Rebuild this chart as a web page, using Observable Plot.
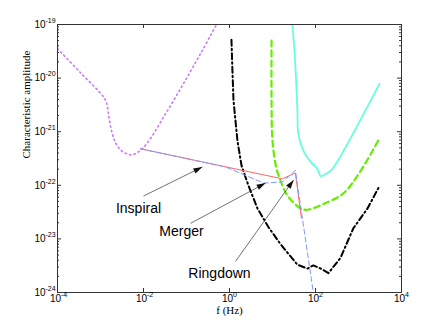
<!DOCTYPE html>
<html><head><meta charset="utf-8">
<script src="https://cdn.jsdelivr.net/npm/d3@7"></script>
<script src="https://cdn.jsdelivr.net/npm/@observablehq/plot@0.6"></script>
<style>body{margin:0;background:#fff}#chart svg{display:block}</style>
</head><body><div id="chart"></div>
<script>
// ---- data (frequency in Hz, characteristic amplitude) ----
const lisaF = [1.0e-4, 3.43e-4, 1.17e-3, 1.38e-3, 1.55e-3, 1.82e-3, 2.24e-3, 3.09e-3, 5.0e-3, 7.6e-3, 1.23e-2, 3.24e-2, 8.5e-2, 0.214, 0.50];
const lisaH = [3.55e-20, 1.26e-20, 4.47e-21, 3.47e-21, 2.0e-21, 1.02e-21, 6.2e-22, 4.4e-22, 3.7e-22, 4.2e-22, 6.2e-22, 2.14e-21, 7.9e-21, 2.9e-20, 1.0e-19];

const blackF = [1.11, 1.17, 1.24, 1.53, 1.91, 2.77, 4.47, 8.1, 15.5, 38, 65, 89, 132, 200, 380, 760, 1620, 3090];
const blackH = [5.2e-20, 1.38e-20, 3.8e-21, 6.8e-22, 2.3e-22, 9.8e-23, 3.7e-23, 1.65e-23, 7.9e-24, 3.3e-24, 2.8e-24, 3.2e-24, 2.8e-24, 2.3e-24, 4.4e-24, 1.58e-23, 3.7e-23, 9.8e-23];

const greenF = [9.5, 9.5, 10, 12.3, 15.5, 20, 26, 45, 65, 155, 447, 1120, 3090];
const greenH = [5.0e-20, 3.8e-21, 6.8e-22, 2.1e-22, 1.2e-22, 7.4e-23, 5.5e-23, 3.7e-23, 3.5e-23, 4.5e-23, 7.1e-23, 1.86e-22, 7.6e-22];

const cyanF = [29.2, 32.4, 34.3, 38, 39.8, 52.5, 76, 112, 132, 170, 224, 324, 3090];
const cyanH = [1.0e-19, 3.2e-20, 1.55e-20, 2.45e-21, 9.1e-22, 4.4e-22, 2.8e-22, 2.0e-22, 1.48e-22, 1.62e-22, 1.86e-22, 2.8e-22, 7.9e-21];

const redF = [8.5e-3, 17, 34, 47];
const redH = [4.8e-22, 1.32e-22, 1.7e-22, 2.45e-23];

const blueF = [8.5e-3, 0.81, 6.2, 17, 34, 89];
const blueH = [4.8e-22, 2.2e-22, 1.1e-22, 1.15e-22, 1.9e-22, 1.0e-24];

const labels = ["Inspiral", "Merger", "Ringdown"];
const labelF = [7.65e-3, 0.0766, 0.585];
const labelH = [3.7e-23, 1.38e-23, 2.3e-24];
const tailF = [1.0e-2, 0.124, 1.38];
const tailH = [6.3e-23, 1.95e-23, 3.8e-24];
const headF = [0.234, 6.9, 31];
const headH = [2.2e-22, 1.1e-22, 1.26e-22];

const xTicks = [1e-4, 1e-2, 1, 1e2, 1e4];
const xExp = ["-4", "-2", "0", "2", "4"];
const yTicks = [1e-24, 1e-23, 1e-22, 1e-21, 1e-20, 1e-19];
const yExp = ["-24", "-23", "-22", "-21", "-20", "-19"];
const yMinor = [];
for (let k = -24; k < -19; k++) for (let m = 2; m <= 9; m++) yMinor.push(m * Math.pow(10, k));

// ---- layout ----
const W = 443, H = 328, mL = 57, mR = 42, mT = 24, mB = 36;
const fw = W - mL - mR, fh = H - mT - mB;
const axisCol = "#333";
const sans = "Liberation Sans, Arial, Helvetica, sans-serif";
const serif = "Liberation Serif, Times New Roman, serif";

const pts = (F, Hs) => F.map((f, i) => ({f, h: Hs[i]}));
const lisa = pts(lisaF, lisaH), black = pts(blackF, blackH), green = pts(greenF, greenH);
const cyan = pts(cyanF, cyanH), red = pts(redF, redH), blue = pts(blueF, blueH);
const ann = labels.map((t, i) => ({t, lf: labelF[i], lh: labelH[i], tf: tailF[i], th: tailH[i], hf: headF[i], hh: headH[i]}));

const base = {
  width: W, height: H, marginLeft: mL, marginRight: mR, marginTop: mT, marginBottom: mB,
  x: {type: "log", domain: [1e-4, 1e4], axis: null},
  y: {type: "log", domain: [1e-24, 1e-19], axis: null}
};

// first pass to obtain the scales for arrowhead orientation
const p0 = Plot.plot({...base, marks: [Plot.frame()]});
const sx = p0.scale("x"), sy = p0.scale("y");
ann.forEach(a => {
  const dx = sx.apply(a.hf) - sx.apply(a.tf), dy = sy.apply(a.hh) - sy.apply(a.th);
  a.angle = Math.atan2(dx, -dy) * 180 / Math.PI;
});
const headSym = {draw(ctx) { ctx.moveTo(0, 0); ctx.lineTo(-2.8, 9); ctx.lineTo(2.8, 9); ctx.closePath(); }};

const chart = Plot.plot({
  ...base,
  style: {background: "#fff"},
  marks: [
    Plot.line(lisa, {x: "f", y: "h", stroke: "#cc77ff", strokeWidth: 1.6, strokeDasharray: "1.4,3.2", curve: "catmull-rom", clip: true}),
    Plot.line(black, {x: "f", y: "h", stroke: "#000", strokeWidth: 2, strokeDasharray: "6,3,1.5,3", clip: true}),
    Plot.line(green, {x: "f", y: "h", stroke: "#66ee00", strokeWidth: 2.2, strokeDasharray: "6,4", curve: "catmull-rom", clip: true}),
    Plot.line(cyan, {x: "f", y: "h", stroke: "#66ffdd", strokeWidth: 1.8, curve: "catmull-rom", clip: true}),
    Plot.line(red, {x: "f", y: "h", stroke: "#ff6666", strokeWidth: 1, clip: true}),
    Plot.line(blue, {x: "f", y: "h", stroke: "#7f99ff", strokeWidth: 1, strokeDasharray: "5,3", clip: true}),
    Plot.link(ann, {x1: "tf", y1: "th", x2: "hf", y2: "hh", stroke: "#333", strokeWidth: 0.7}),
    Plot.dot(ann, {x: "hf", y: "hh", symbol: headSym, rotate: "angle", fill: "#111", stroke: "none"}),
    Plot.text(ann, {x: "lf", y: "lh", text: "t", fontSize: 14, fontFamily: sans, fill: "#000"}),
    // frame and ticks
    Plot.frame({stroke: axisCol}),
    Plot.tickY(yTicks, {y: d => d, insetRight: fw - 4, stroke: axisCol}),
    Plot.tickY(yTicks, {y: d => d, insetLeft: fw - 4, stroke: axisCol}),
    Plot.tickY(yMinor, {y: d => d, insetRight: fw - 2, stroke: axisCol}),
    Plot.tickY(yMinor, {y: d => d, insetLeft: fw - 2, stroke: axisCol}),
    Plot.tickX(xTicks, {x: d => d, insetTop: fh - 4, stroke: axisCol}),
    Plot.tickX(xTicks, {x: d => d, insetBottom: fh - 4, stroke: axisCol}),
    // tick labels
    Plot.text(xTicks, {x: d => d, frameAnchor: "bottom", text: () => "10", textAnchor: "end", dx: 3.5, dy: 9.5, fontSize: 10, fontFamily: sans, fill: "#000"}),
    Plot.text(xTicks, {x: d => d, frameAnchor: "bottom", text: (d, i) => xExp[i], textAnchor: "start", dx: 3.5, dy: 4.5, fontSize: 7, fontFamily: sans, fill: "#000"}),
    Plot.text(yTicks, {y: d => d, frameAnchor: "left", text: () => "10", textAnchor: "end", dx: -12, dy: 0, fontSize: 10, fontFamily: sans, fill: "#000"}),
    Plot.text(yTicks, {y: d => d, frameAnchor: "left", text: (d, i) => yExp[i], textAnchor: "start", dx: -12, dy: -4, fontSize: 7, fontFamily: sans, fill: "#000"}),
    // axis titles
    Plot.text(["f (Hz)"], {text: d => d, frameAnchor: "bottom", dy: 21, fontSize: 11, fontFamily: serif, fill: "#000"}),
    Plot.text(["Characteristic amplitude"], {text: d => d, frameAnchor: "left", rotate: -90, dx: -31, fontSize: 11, fontFamily: serif, fill: "#000"})
  ]
});
document.getElementById("chart").appendChild(chart);
</script>
</body></html>
